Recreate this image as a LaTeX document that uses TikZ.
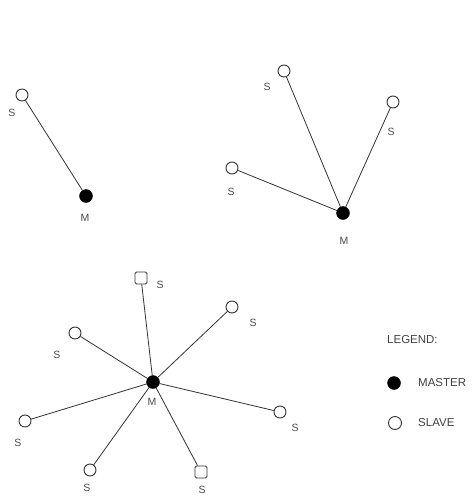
\documentclass[tikz,border=0pt]{standalone}
\usepackage{fontspec}
\setmainfont{Liberation Sans}
\begin{document}
\begin{tikzpicture}[x=1pt,y=-1pt,
  master/.style={circle,fill=black,draw=black,inner sep=0pt,minimum size=13pt},
  slave/.style={circle,draw=black!80,line width=0.9pt,fill=white,inner sep=0pt,minimum size=12pt},
  slavesq/.style={rectangle,rounded corners=1.5pt,draw=black!80,line width=0.9pt,fill=white,inner sep=0pt,minimum size=12pt},
  lbl/.style={text=black!70,font=\fontsize{10.5}{12}\selectfont,inner sep=0pt},
  leg/.style={text=black!75,font=\fontsize{11.5}{13}\selectfont,inner sep=0pt,anchor=west},
  link/.style={draw=black!80,line width=0.8pt}]
\useasboundingbox (0,0) rectangle (473,498);
\fill[white] (0,0) rectangle (473,498);

% piconet with a single slave
\node[master] (m1) at (86,196) {};
\node[slave] (a1) at (22,95) {};
\draw[link] (m1) -- (a1);
\node[lbl] (lm1) at (85,218) {M};
\node[lbl] (la1) at (12,113) {S};

% piconet with three slaves
\node[master] (m2) at (343,213) {};
\node[slave] (b1) at (284,71) {};
\node[slave] (b2) at (393,102) {};
\node[slave] (b3) at (232,168) {};
\foreach \s in {b1,b2,b3} \draw[link] (m2) -- (\s);
\node[lbl] (lm2) at (344,241) {M};
\node[lbl] (lb1) at (267,87) {S};
\node[lbl] (lb2) at (391,132) {S};
\node[lbl] (lb3) at (231,192) {S};

% piconet with seven slaves
\node[master] (m3) at (153,382) {};
\node[slavesq] (c1) at (141,278) {};
\node[slave] (c2) at (232,307) {};
\node[slave] (c3) at (75,333) {};
\node[slave] (c4) at (280,412) {};
\node[slave] (c5) at (25,421) {};
\node[slave] (c6) at (90,470) {};
\node[slavesq] (c7) at (201,472) {};
\foreach \s in {c1,c2,c3,c4,c5,c6,c7} \draw[link] (m3) -- (\s);
\node[lbl] (lm3) at (152,402) {M};
\node[lbl] (lc1) at (160,285) {S};
\node[lbl] (lc2) at (253,323) {S};
\node[lbl] (lc3) at (57,355) {S};
\node[lbl] (lc4) at (295,428) {S};
\node[lbl] (lc5) at (18,443) {S};
\node[lbl] (lc6) at (87,488) {S};
\node[lbl] (lc7) at (202,490) {S};

% legend
\node[leg] (legt) at (387,340) {LEGEND:};
\node[master] (legm) at (394,383) {};
\node[leg] (legmt) at (418,383) {MASTER};
\node[slave,minimum size=13pt] (legs) at (395,423) {};
\node[leg] (legst) at (418,423) {SLAVE};
\end{tikzpicture}
\end{document}
